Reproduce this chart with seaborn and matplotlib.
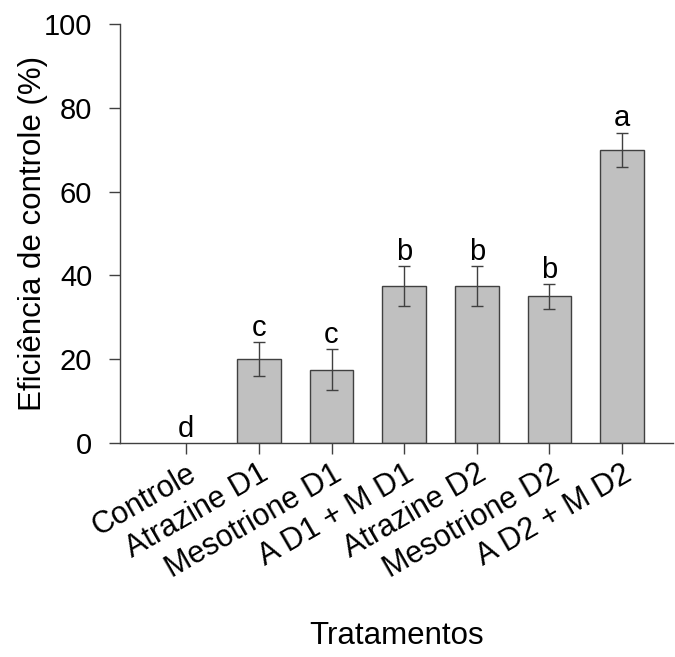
import matplotlib
matplotlib.use("Agg")
import matplotlib.pyplot as plt
import pandas
import seaborn

TREATMENTS = ["Controle", "Atrazine D1", "Mesotrione D1", "A D1 + M D1",
              "Atrazine D2", "Mesotrione D2", "A D2 + M D2"]
EFFICIENCY = [0.0, 20.0, 17.5, 37.5, 37.5, 35.0, 70.0]
ERROR = [0.0, 4.0, 4.8, 4.7, 4.7, 3.0, 4.1]
LETTERS = ["d", "c", "c", "b", "b", "b", "a"]

seaborn.set_style("ticks")
plt.rcParams['font.family'] = ['Liberation Sans', 'DejaVu Sans']
plt.rcParams['text.color'] = 'black'
plt.rcParams['axes.labelcolor'] = 'black'
plt.rcParams['xtick.labelcolor'] = 'black'
plt.rcParams['ytick.labelcolor'] = 'black'

df = pandas.DataFrame({"trat": TREATMENTS, "value": EFFICIENCY, "err": ERROR})

fig = plt.figure(figsize=(6.75, 6.57), dpi=100)
ax = fig.add_axes([0.178, 0.326, 0.819, 0.637])

seaborn.barplot(x="trat", y="value", data=df, color="#c0c0c0",
                edgecolor="#404040", linewidth=1.0, width=0.6,
                saturation=1, errorbar=None, ax=ax)
# barra de altura zero (controle) sem contorno
for p in ax.patches:
    if p.get_height() == 0:
        p.set_edgecolor("none")

idx = [i for i, e in enumerate(ERROR) if e > 0]
ax.errorbar(idx, [EFFICIENCY[i] for i in idx], yerr=[ERROR[i] for i in idx],
            fmt="none", ecolor="#404040", elinewidth=1.0, capsize=4, capthick=1.0)

# letras das comparacoes de medias
for i, (v, e, lab) in enumerate(zip(EFFICIENCY, ERROR, LETTERS)):
    ax.text(i, v + e + 1.5, lab, ha="center", va="baseline", fontsize=21)

ax.set_ylim(0, 100)
ax.set_xlim(-0.91, 6.7)
ax.set_yticks([0, 20, 40, 60, 80, 100])
ax.tick_params(axis="both", labelsize=21, length=8, width=1, color="#404040",
               direction="out")
ax.tick_params(axis="y", pad=12)
ax.set_xticks(range(len(TREATMENTS)))
ax.set_xticklabels(TREATMENTS, rotation=30, ha="right", rotation_mode="anchor")
for lab in ax.get_xticklabels():
    lab.set_fontsize(22)
ax.set_ylabel("Eficiência de controle (%)", fontsize=22.5, labelpad=-3)
ax.set_xlabel("Tratamentos", fontsize=22.5, labelpad=27)

seaborn.despine(ax=ax)
for s in ["left", "bottom"]:
    ax.spines[s].set_color("#404040")
    ax.spines[s].set_linewidth(1.0)

fig.savefig("out.png", dpi=100)
